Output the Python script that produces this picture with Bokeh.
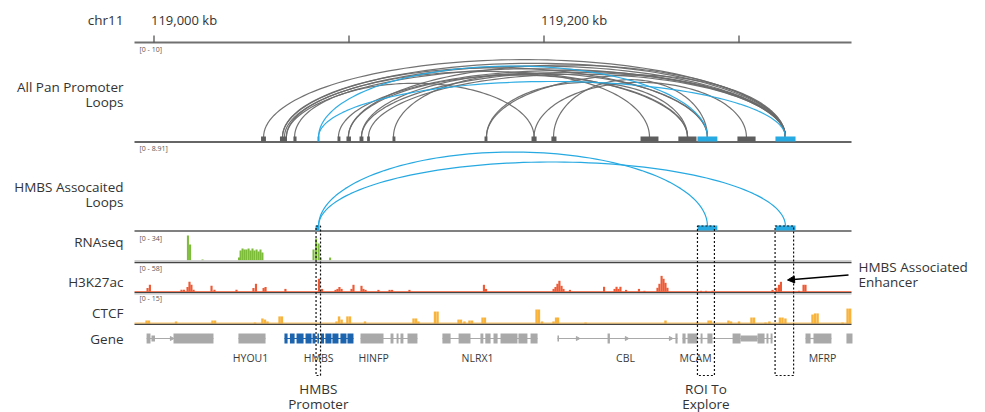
import numpy as np
from bokeh.plotting import figure
from bokeh.models import Range1d, Arrow, NormalHead
from bokeh.core.properties import value
from bokeh.embed import file_html
from bokeh.resources import INLINE

# ======================= DATA (genomic positions in kb) =======================
chrom = "chr11"
region = [118990.0, 119357.7]
ruler_ticks = [119000, 119100, 119200, 119300]
ruler_labels = ["119,000 kb", "", "119,200 kb", ""]

# All Pan Promoter Loops: anchors
pan_anchor_start = [119054.9, 119064.6, 119071.5, 119083.8, 119094.1, 119098.7, 119105.4, 119109.3,
                    119122.3, 119169.5, 119193.6, 119203.8, 119249.5, 119268.9, 119278.7, 119299.2, 119318.7]
pan_anchor_end = [119057.4, 119068.2, 119073.1, 119084.9, 119095.6, 119101.0, 119107.4, 119110.7,
                  119123.8, 119171.0, 119196.2, 119206.4, 119258.7, 119278.2, 119288.9, 119308.5, 119329.0]
pan_anchor_hl = [0, 0, 0, 1, 0, 0, 0, 0, 0, 0, 0, 0, 0, 0, 1, 0, 1]

# All Pan Promoter Loops: loops (score range 0 - 10)
pan_loop_start = [119056.2, 119065.9, 119065.9, 119066.9, 119067.9, 119067.9, 119072.1, 119094.6, 119099.7,
                  119099.7, 119106.4, 119106.4, 119110.0, 119122.8, 119170.5, 119170.5, 119194.9, 119204.9,
                  119084.4, 119084.4]
pan_loop_end = [119323.8, 119323.8, 119283.8, 119323.8, 119273.6, 119323.8, 119194.9, 119323.8, 119323.8,
                119273.6, 119323.8, 119283.8, 119323.8, 119254.1, 119273.6, 119323.8, 119303.8, 119283.8,
                119283.8, 119323.8]
pan_loop_score = [8.5, 8.1, 7.6, 7.8, 7.2, 7.5, 5.9, 7.3, 7.9, 6.8, 7.1, 7.0, 6.9, 6.9, 6.0, 6.8, 6.0, 6.3,
                  7.8, 6.1]
pan_loop_hl = [0] * 18 + [1, 1]

# HMBS associated loops (score range 0 - 8.91)
hmbs_anchor_start = [119082.8, 119278.7, 119318.7]
hmbs_anchor_end = [119084.9, 119288.9, 119329.0]
hmbs_loop_start = [119084.4, 119084.4]
hmbs_loop_end = [119283.8, 119323.8]
hmbs_loop_score = [8.24, 7.13]

# RNAseq (0 - 34)
rna_pos = [119017.4, 119018.5, 119024.9, 119043.6, 119044.4, 119045.4, 119046.4, 119047.4, 119048.5,
           119049.5, 119050.5, 119051.5, 119052.6, 119053.6, 119054.6, 119055.6, 119081.8, 119083.1,
           119084.4, 119085.4, 119090.3]
rna_val = [34, 21.8, 1.4, 4, 13.6, 16.3, 15, 15, 16.3, 13.6, 16.3, 13.6, 15, 12.2, 15, 10.9, 15, 30, 23, 4, 4]

# H3K27ac (0 - 58)
h3_pos = [118996.7, 118997.9, 119014.1, 119015.4, 119017.2, 119018.2, 119019.2, 119020.3, 119029.5, 119031.0,
          119042.3, 119051.0, 119052.3, 119056.2, 119057.2, 119067.4, 119084.6, 119086.2, 119093.1, 119094.1,
          119095.1, 119096.2, 119101.3, 119102.3, 119106.4, 119107.4, 119108.5, 119115.1, 119120.8, 119122.1,
          119131.0, 119169.2, 119170.3, 119204.9, 119205.9, 119206.9, 119207.9, 119209.0, 119210.0, 119213.3,
          119230.8, 119236.2, 119237.2, 119238.2, 119239.2, 119242.1, 119248.7, 119251.5, 119258.2, 119259.2,
          119260.3, 119261.3, 119262.3, 119263.3, 119280.5, 119283.1, 119286.4, 119317.2, 119319.2, 119320.5,
          119321.5, 119330.8, 119333.1, 119334.1]
h3_val = [8, 14.5, 4, 4, 10, 21, 14.5, 4, 12.4, 4,
          4, 8, 16.6, 8, 10, 6, 27, 6, 4, 6,
          10, 6, 6, 14.5, 12.4, 6, 4, 4, 4, 4,
          4, 14.5, 6, 6, 10, 16.6, 22.8, 12.4, 6, 4,
          10.4, 6, 10.4, 6, 10.4, 4, 6, 2, 8.3, 16.6,
          33, 27, 18.6, 8.3, 2, 2, 2, 4, 8.3, 14.5,
          20.7, 2, 14.5, 14.5]

# CTCF (0 - 15)
ctcf_pos = [118996.2, 118997.4, 119011.3, 119030.0, 119031.3, 119051.8, 119055.6, 119056.9, 119058.2, 119064.4,
            119065.6, 119093.6, 119094.9, 119096.2, 119099.2, 119100.5, 119108.2, 119133.1, 119134.4, 119135.6,
            119144.1, 119145.4, 119156.2, 119157.4, 119159.2, 119161.8, 119163.1, 119168.5, 119169.7, 119196.2,
            119197.4, 119199.0, 119204.9, 119206.2, 119207.2, 119221.3, 119262.3, 119278.5, 119284.4, 119285.6,
            119294.6, 119295.9, 119300.0, 119306.4, 119307.7, 119313.6, 119315.6, 119321.0, 119322.3, 119323.8,
            119337.7, 119339.0, 119340.3, 119353.1, 119355.7, 119357.0]
ctcf_val = [1.6, 1.6, 1.1, 1.6, 1.6, 0.5, 2.7, 2.1, 1.1, 3.8,
            3.8, 1.1, 3.8, 2.1, 3.8, 3.8, 1.1, 2.7, 2.7, 1.1,
            6.4, 6.4, 2.1, 2.1, 1.1, 1.6, 1.6, 3.2, 3.2, 7.5,
            7.5, 1.1, 1.1, 3.2, 3.2, 0.5, 1.6, 0.5, 1.6, 1.6,
            1.6, 1.1, 1.1, 3.2, 3.2, 0.5, 1.1, 3.2, 3.2, 2.7,
            4.8, 5.4, 5.4, 0.5, 8.0, 8.0]

# Genes: intron lines, exons, labels
gene_line_start = [118996.2, 119043.3, 119066.9, 119105.9, 119147.9, 119206.9, 119271.0, 119286.4, 119334.1]
gene_line_end = [119030.5, 119057.2, 119102.3, 119135.1, 119196.7, 119268.5, 119286.4, 119317.2, 119347.4]
gene_line_hl = [0, 0, 1, 0, 0, 0, 0, 0, 0]
exon_start = [118996.2, 118998.7, 119010.0, 119043.3,
              119066.9, 119069.7, 119073.1, 119077.7, 119081.3, 119083.8, 119085.6, 119087.9, 119091.5, 119095.6, 119099.2,
              119105.9, 119121.3, 119124.4, 119126.4, 119130.0,
              119147.9, 119156.2, 119167.4, 119169.9, 119174.1, 119177.7, 119186.9, 119193.1,
              119206.9, 119232.6, 119267.4,
              119271.0, 119273.6, 119280.3, 119283.8,
              119296.7, 119300.8, 119309.5, 119314.1, 119316.2,
              119334.1, 119338.2, 119355.1]
exon_end = [118998.2, 119000.5, 119030.5, 119057.2,
            119068.5, 119072.1, 119076.7, 119080.8, 119082.8, 119084.6, 119087.2, 119091.0, 119094.6, 119098.7, 119102.3,
            119117.7, 119122.8, 119125.4, 119127.9, 119135.1,
            119152.1, 119162.3, 119168.9, 119172.6, 119176.2, 119186.4, 119191.5, 119196.7,
            119207.7, 119233.8, 119268.5,
            119272.6, 119278.7, 119281.3, 119286.4,
            119300.8, 119309.5, 119313.1, 119315.1, 119317.2,
            119336.7, 119347.4, 119358.2]
exon_thick = [1, 0, 1, 1,
              1, 1, 1, 1, 1, 1, 1, 1, 1, 1, 1,
              1, 1, 1, 1, 1,
              1, 1, 1, 1, 1, 1, 1, 1,
              0, 1, 1,
              1, 1, 1, 1,
              1, 0, 1, 1, 1,
              1, 1, 1]
exon_hl = [0] * 4 + [1] * 11 + [0] * 28
strand_marks = [119009.0, 119217.2, 119242.3, 119264.9]
gene_names = ["HYOU1", "HMBS", "HINFP", "NLRX1", "CBL", "MCAM", "MFRP"]
gene_label_pos = [119049.5, 119084.4, 119112.6, 119165.9, 119241.8, 119277.7, 119342.8]

# Regions of interest (dashed boxes)
roi_start = [119083.1, 119278.7, 119318.5]
roi_end = [119085.4, 119287.4, 119328.0]
roi_names = [["HMBS", "Promoter"], ["ROI To", "Explore"], None]

# ======================= LAYOUT =======================
PX_PER_KB = 1.95
X_REF_PX, X_REF_KB = 153.5, 119000.0


def kb(px):
    return X_REF_KB + (px - X_REF_PX) / PX_PER_KB


W, H = 985, 412
p = figure(width=W, height=H, x_range=Range1d(kb(0), kb(W)), y_range=Range1d(H, 0),
           output_backend="svg", toolbar_location=None, min_border=0,
           x_axis_type=None, y_axis_type=None)
p.grid.visible = False
p.outline_line_color = None
p.background_fill_color = "white"
p.border_fill_color = "white"

TXT = "#333333"
GRAY_LOOP = "#6a6a6a"
BLUE = "#27a9e1"
GREEN = "#7cbc3a"
RED = "#ee5a35"
ORANGE = "#f8b33c"
GENE_GRAY = "#a9a9a9"
GENE_BLUE = "#1c64ae"


def txt(x, y, s, size="13.5px", align="left", color=TXT, baseline="middle", xoff=0):
    p.text(x=[x], y=[y], text=[s], text_font=value("Open Sans"), text_font_size=size,
           text_align=align, text_baseline=baseline, text_color=color, x_offset=xoff)


# ---- left labels ----
LBL_X = kb(123)
txt(LBL_X, 19, chrom, align="right")
txt(LBL_X, 86, "All Pan Promoter", align="right")
txt(LBL_X, 101, "Loops", align="right")
txt(LBL_X, 186, "HMBS Assocaited", align="right")
txt(LBL_X, 201, "Loops", align="right")
txt(LBL_X, 241, "RNAseq", align="right")
txt(LBL_X, 281, "H3K27ac", align="right")
txt(LBL_X, 312, "CTCF", align="right")
txt(LBL_X, 338, "Gene", align="right")

# ---- ruler ----
p.segment(x0=[region[0]], x1=[region[1]], y0=[42], y1=[42], line_color="#707070", line_width=2)
p.segment(x0=ruler_ticks, x1=ruler_ticks, y0=[35] * 4, y1=[42] * 4, line_color="#555555", line_width=1.3)
for t, lab in zip(ruler_ticks, ruler_labels):
    if lab:
        txt(t, 19, lab, size="13px", xoff=-3)

# ---- range labels ----
RX = kb(139)
for yy, s in [(49, "[0 - 10]"), (148, "[0 - 8.91]"), (238, "[0 - 34]"), (268, "[0 - 58]"), (298, "[0 - 15]")]:
    txt(RX, yy, s, size="7px", color="#555555")


def arcs(starts, ends, scores, vmax, base, height):
    t = np.linspace(0, np.pi, 90)
    xs, ys = [], []
    for s, e, sc in zip(starts, ends, scores):
        c, hw = (s + e) / 2.0, (e - s) / 2.0
        xs.append(list(c - hw * np.cos(t)))
        ys.append(list(base - sc / vmax * height * np.sin(t)))
    return xs, ys


# ---- panel 1: all pan promoter loops ----
P1_BASE, P1_H = 136.5, 91
p.segment(x0=[region[0]], x1=[region[1]], y0=[141.5], y1=[141.5], line_color="#333333", line_width=1.5)
for hl in (0, 1):
    idx = [i for i, h in enumerate(pan_loop_hl) if h == hl]
    xs, ys = arcs([pan_loop_start[i] for i in idx], [pan_loop_end[i] for i in idx],
                  [pan_loop_score[i] for i in idx], 10, P1_BASE, P1_H)
    p.multi_line(xs, ys, line_color=BLUE if hl else GRAY_LOOP, line_width=1.2, line_alpha=0.95)
a_cols = [BLUE if h else "#5e5e5e" for h in pan_anchor_hl]
p.quad(left=pan_anchor_start, right=pan_anchor_end, top=136, bottom=141, fill_color=a_cols, line_color=None)

# ---- panel 2: HMBS associated loops ----
P2_BASE, P2_H = 225.5, 80
p.segment(x0=[region[0]], x1=[region[1]], y0=[230.5], y1=[230.5], line_color="#808080", line_width=2)
xs, ys = arcs(hmbs_loop_start, hmbs_loop_end, hmbs_loop_score, 8.91, P2_BASE, P2_H)
p.multi_line(xs, ys, line_color=BLUE, line_width=1.2)
p.quad(left=hmbs_anchor_start, right=hmbs_anchor_end, top=225, bottom=230, fill_color=BLUE, line_color=None)


# ---- signal tracks ----
def bars(pos, vals, vmax, base, height, width, color):
    pos = np.array(pos, dtype=float)
    v = np.minimum(np.array(vals, dtype=float), vmax)
    p.quad(left=pos - width / 2, right=pos + width / 2, bottom=base, top=base - v / vmax * height,
           fill_color=color, line_color=None)


bars(rna_pos, rna_val, 34, 260, 25, 1.05, GREEN)
p.segment(x0=[region[0]], x1=[region[1]], y0=[260.2], y1=[260.2], line_color="#c8c8c8", line_width=1)
p.segment(x0=[region[0]], x1=[region[1]], y0=[262], y1=[262], line_color="#444444", line_width=1.3)

p.segment(x0=[region[0]], x1=[region[1]], y0=[291], y1=[291], line_color=RED, line_width=0.8)
bars(h3_pos, h3_val, 58, 291.3, 28, 1.1, RED)
p.segment(x0=[region[0]], x1=[region[1]], y0=[292.2], y1=[292.2], line_color="#444444", line_width=1.3)
p.segment(x0=[region[0]], x1=[region[1]], y0=[293.6], y1=[293.6], line_color="#c8c8c8", line_width=1)

p.segment(x0=[region[0]], x1=[region[1]], y0=[322.6], y1=[322.6], line_color=ORANGE, line_width=1)
bars(ctcf_pos, ctcf_val, 15, 323, 28, 1.25, ORANGE)
p.segment(x0=[region[0]], x1=[region[1]], y0=[323.8], y1=[323.8], line_color="#444444", line_width=1.3)

# ---- genes ----
GY = 338
p.segment(x0=gene_line_start, x1=gene_line_end, y0=[GY] * len(gene_line_start), y1=[GY] * len(gene_line_start),
          line_color=[GENE_BLUE if h else GENE_GRAY for h in gene_line_hl], line_width=1.2)
ex_top = [GY - (5 if t else 3) for t in exon_thick]
ex_bot = [GY + (5 if t else 3) for t in exon_thick]
p.quad(left=exon_start, right=exon_end, top=ex_top, bottom=ex_bot,
       fill_color=[GENE_BLUE if h else GENE_GRAY for h in exon_hl], line_color=None)
p.scatter(x=strand_marks, y=[GY] * len(strand_marks), marker="triangle", size=4, angle=-np.pi / 2,
          fill_color=GENE_GRAY, line_color=GENE_GRAY)
p.text(x=gene_label_pos, y=[357] * len(gene_names), text=gene_names, text_font=value("Open Sans"),
       text_font_size="10.5px", text_align="center", text_baseline="middle", text_color="#3a3a3a")

# ---- ROI dashed boxes & labels ----
p.quad(left=roi_start, right=roi_end, top=225.5, bottom=375, fill_alpha=0, line_color="#111111",
       line_dash="2 2", line_width=1.2)
for s, e, nm in zip(roi_start, roi_end, roi_names):
    if nm:
        cx = (s + e) / 2
        txt(cx, 388, nm[0], align="center")
        txt(cx, 403, nm[1], align="center")

# ---- enhancer annotation ----
txt(kb(858), 266.5, "HMBS Associated")
txt(kb(858), 281.5, "Enhancer")
p.add_layout(Arrow(end=NormalHead(size=7, fill_color="black", line_color="black"),
                   x_start=kb(848), y_start=274.5, x_end=kb(787), y_end=279.5,
                   line_color="black", line_width=1.6))

open("out.html", "w").write(file_html(p, INLINE))
